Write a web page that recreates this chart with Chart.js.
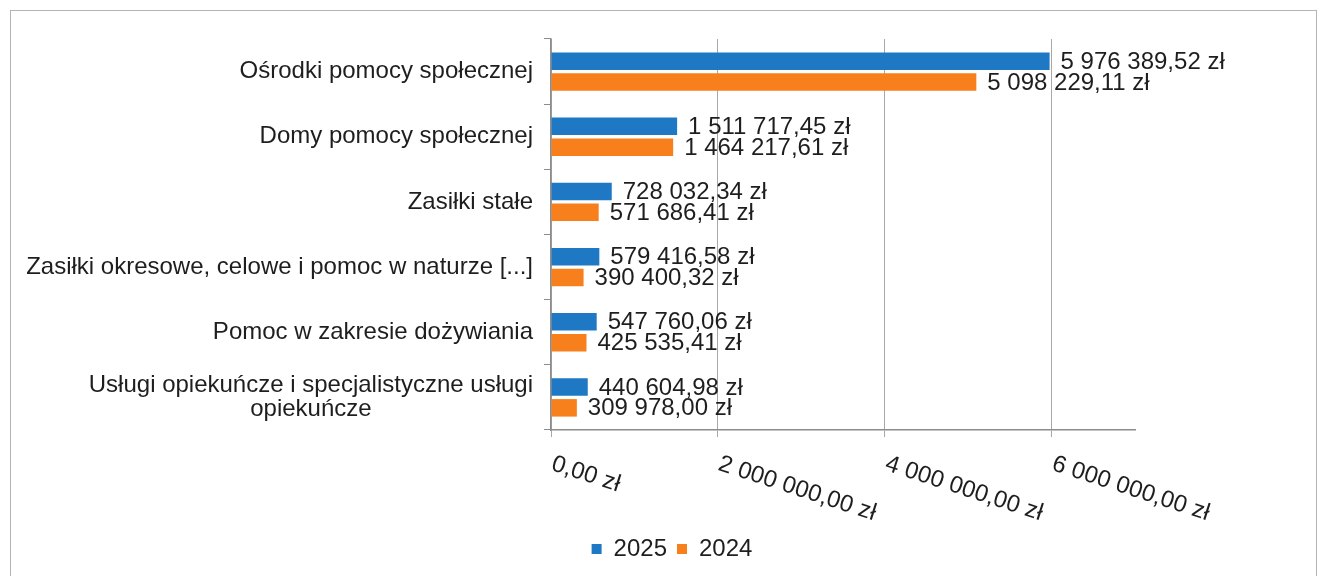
<!DOCTYPE html>
<html>
<head>
<meta charset="utf-8">
<script src="https://cdn.jsdelivr.net/npm/chart.js@4"></script>
<style>
  html, body { margin: 0; padding: 0; background: #ffffff; }
  #wrap { position: relative; width: 1321px; height: 576px; overflow: hidden; }
  #frame { position: absolute; left: 10px; top: 10px; width: 1307px; height: 620px; border: 1px solid #b4b4b4; box-sizing: border-box; }
  #c { position: absolute; left: 0; top: 0; }
</style>
</head>
<body>
<div id="wrap">
  <div id="frame"></div>
  <canvas id="c" width="1321" height="576"></canvas>
</div>
<script>
const categories = [
  ['Ośrodki pomocy społecznej'],
  ['Domy pomocy społecznej'],
  ['Zasiłki stałe'],
  ['Zasiłki okresowe, celowe i pomoc w naturze [...]'],
  ['Pomoc w zakresie dożywiania'],
  ['Usługi opiekuńcze i specjalistyczne usługi', 'opiekuńcze']
];
const values2025 = [5976389.52, 1511717.45, 728032.34, 579416.58, 547760.06, 440604.98];
const values2024 = [5098229.11, 1464217.61, 571686.41, 390400.32, 425535.41, 309978.00];
const seriesNames = ['2025', '2024'];
const xTickValues = [0, 2000000, 4000000, 6000000];
const xMax = 7000000;

const FONT = '"Liberation Sans", Arial, sans-serif';
const FS = 24;
const TEXT = '#1e1e1e';

function zl(v) {
  const parts = Math.abs(v).toFixed(2).split('.');
  return parts[0].replace(/\B(?=(\d{3})+(?!\d))/g, ' ') + ',' + parts[1] + ' zł';
}

const labelsPlugin = {
  id: 'customLabels',
  afterDraw(chart) {
    const ctx = chart.ctx;
    ctx.save();
    ctx.fillStyle = TEXT;
    ctx.font = FS + 'px ' + FONT;

    // value labels next to bars
    ctx.textAlign = 'left';
    ctx.textBaseline = 'middle';
    chart.data.datasets.forEach((ds, di) => {
      const meta = chart.getDatasetMeta(di);
      meta.data.forEach((bar, i) => {
        ctx.fillText(zl(ds.data[i]), bar.x + 11, bar.y + 1);
      });
    });

    // category labels (each block right-aligned, lines centered within block)
    const ys = chart.scales.y;
    const lh = 24;
    categories.forEach((lines, i) => {
      const cy = ys.getPixelForTick(i);
      let w = 0;
      lines.forEach(l => { w = Math.max(w, ctx.measureText(l).width); });
      const cx = ys.right - 18 - w / 2;
      ctx.textAlign = 'center';
      ctx.textBaseline = 'middle';
      const y0 = cy - (lines.length - 1) * lh / 2;
      lines.forEach((l, k) => ctx.fillText(l, cx, y0 + k * lh));
    });

    // rotated x tick labels
    const xs = chart.scales.x;
    xs.ticks.forEach((t, i) => {
      const px = xs.getPixelForTick(i);
      ctx.save();
      ctx.translate(px + 5, xs.top + 22);
      ctx.rotate(18 * Math.PI / 180);
      ctx.textAlign = 'left';
      ctx.textBaseline = 'top';
      ctx.fillText(zl(t.value), 0, 0);
      ctx.restore();
    });
    ctx.restore();
  }
};

new Chart(document.getElementById('c'), {
  type: 'bar',
  data: {
    labels: categories,
    datasets: [
      { label: seriesNames[0], data: values2025, backgroundColor: '#1f78c4', borderWidth: 0,
        categoryPercentage: 0.64, barPercentage: 0.84 },
      { label: seriesNames[1], data: values2024, backgroundColor: '#f7801c', borderWidth: 0,
        categoryPercentage: 0.64, barPercentage: 0.84 }
    ]
  },
  options: {
    indexAxis: 'y',
    responsive: false,
    animation: false,
    devicePixelRatio: 1,
    layout: { padding: { left: 209, right: 186, top: 39, bottom: 5 } },
    plugins: {
      legend: {
        position: 'bottom',
        labels: {
          boxWidth: 10, boxHeight: 10, padding: 10,
          color: TEXT,
          font: { family: FONT, size: FS }
        }
      },
      tooltip: { enabled: false }
    },
    scales: {
      x: {
        min: 0, max: xMax,
        afterBuildTicks: (s) => { s.ticks = xTickValues.map(v => ({ value: v })); },
        afterFit: (s) => { s.height = 97; },
        ticks: { display: false },
        grid: { color: '#a8a8a8', lineWidth: 1, drawTicks: true, tickLength: 7, tickColor: '#a8a8a8' },
        border: { display: true, color: '#8c8c8c', width: 1.5 }
      },
      y: {
        afterFit: (s) => { s.width = 342; },
        ticks: { display: false },
        grid: { drawOnChartArea: false, drawTicks: true, tickLength: 7, color: '#8c8c8c', offset: true },
        border: { display: true, color: '#8c8c8c', width: 1.5 }
      }
    }
  },
  plugins: [labelsPlugin]
});
</script>
</body>
</html>
